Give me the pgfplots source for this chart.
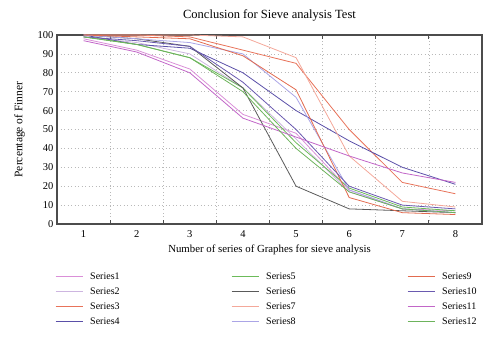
\documentclass[border=0pt]{standalone}
\usepackage{fontspec}
\setmainfont{Liberation Serif}
\usepackage{pgfplots}
\pgfplotsset{compat=1.18}
\definecolor{cS1}{HTML}{DA8FD8}
\definecolor{cS2}{HTML}{CDB5E0}
\definecolor{cS3}{HTML}{E8735A}
\definecolor{cS4}{HTML}{5A4FA8}
\definecolor{cS5}{HTML}{6CBB5A}
\definecolor{cS6}{HTML}{5A5A5A}
\definecolor{cS7}{HTML}{F4A89A}
\definecolor{cS8}{HTML}{ABA5E6}
\definecolor{cS9}{HTML}{E26B4F}
\definecolor{cS10}{HTML}{6A5AB0}
\definecolor{cS11}{HTML}{C266C8}
\definecolor{cS12}{HTML}{6DB35C}
\begin{document}
\begin{tikzpicture}
\useasboundingbox (-57pt,-118pt) rectangle (443pt,224pt);
\begin{axis}[
  at={(0,0)}, anchor=south west,
  scale only axis, width=425pt, height=189pt,
  xmin=0.5, xmax=8.5, ymin=0, ymax=100,
  xtick={1,...,8}, minor xtick={1.5,2.5,...,7.5},
  ytick={0,10,...,100},
  major tick length=0pt,
  minor tick length=4pt,
  tick align=inside,
  xmajorgrids=false, xminorgrids=true, ymajorgrids=true,
  grid style={gray!55, dash pattern=on 1pt off 2.5pt, line width=0.6pt},
  minor grid style={gray!55, dash pattern=on 1pt off 2.5pt, line width=0.6pt},
  axis line style={black!70, line width=1.3pt},
  tick style={black!70, line width=0.8pt},
  /pgf/number format/assume math mode=true,
  ticklabel style={font=\fontsize{10.5}{12}\selectfont},
  xticklabel style={yshift=-3pt},
  title={Conclusion for Sieve analysis Test},
  title style={font=\fontsize{12.5}{14}\selectfont, yshift=4pt},
  xlabel={Number of series of Graphes for sieve analysis},
  xlabel style={font=\fontsize{10.8}{12}\selectfont, yshift=0pt},
  ylabel={Percentage of Finner},
  ylabel style={font=\fontsize{11.5}{13}\selectfont, yshift=6pt},
  legend columns=3,
  legend cell align=left,
  legend style={at={(rel axis cs:0,0)}, anchor=north west, xshift=-5pt, yshift=-43pt,
    draw=none, fill=none, font=\fontsize{10}{12}\selectfont,
    nodes={text height=7pt, text depth=2pt, inner ysep=3pt, inner xsep=3pt, text width=138pt},
    /tikz/every odd column/.append style={column sep=4pt}},
  legend image code/.code={\draw[#1, line width=1pt] (0pt,0pt) -- (27pt,0pt);},
  every axis plot/.append style={line width=0.8pt, mark=none},
]
\addplot[cS1, forget plot] coordinates {(1,98)(2,92)(3,82)(4,58)(5,48)(6,18)(7,8)(8,7)};
\addplot[cS2, forget plot] coordinates {(1,99)(2,96)(3,90)(4,72)(5,45)(6,17)(7,8)(8,6)};
\addplot[cS3, forget plot] coordinates {(1,100)(2,100)(3,99)(4,92)(5,85)(6,50)(7,22)(8,16)};
\addplot[cS4, forget plot] coordinates {(1,100)(2,95)(3,93)(4,80)(5,60)(6,44)(7,30)(8,21)};
\addplot[cS5, forget plot] coordinates {(1,99)(2,95)(3,88)(4,72)(5,43)(6,19)(7,9)(8,7)};
\addplot[cS6, forget plot] coordinates {(1,100)(2,98)(3,94)(4,72)(5,20)(6,8)(7,7)(8,6)};
\addplot[cS7, forget plot] coordinates {(1,100)(2,100)(3,100)(4,99)(5,88)(6,36)(7,12)(8,9)};
\addplot[cS8, forget plot] coordinates {(1,100)(2,98)(3,96)(4,90)(5,67)(6,18)(7,8)(8,6)};
\addplot[cS9, forget plot] coordinates {(1,100)(2,99)(3,98)(4,89)(5,71)(6,14)(7,6)(8,5)};
\addplot[cS10, forget plot] coordinates {(1,99)(2,97)(3,94)(4,75)(5,50)(6,20)(7,10)(8,8)};
\addplot[cS11, forget plot] coordinates {(1,97)(2,91)(3,80)(4,56)(5,46)(6,36)(7,27)(8,22)};
\addplot[cS12, forget plot] coordinates {(1,99)(2,95)(3,88)(4,70)(5,40)(6,17)(7,8)(8,6)};
\addlegendimage{cS1}\addlegendentry{Series1}
\addlegendimage{cS5}\addlegendentry{Series5}
\addlegendimage{cS9}\addlegendentry{Series9}
\addlegendimage{cS2}\addlegendentry{Series2}
\addlegendimage{cS6}\addlegendentry{Series6}
\addlegendimage{cS10}\addlegendentry{Series10}
\addlegendimage{cS3}\addlegendentry{Series3}
\addlegendimage{cS7}\addlegendentry{Series7}
\addlegendimage{cS11}\addlegendentry{Series11}
\addlegendimage{cS4}\addlegendentry{Series4}
\addlegendimage{cS8}\addlegendentry{Series8}
\addlegendimage{cS12}\addlegendentry{Series12}
\end{axis}
\end{tikzpicture}
\end{document}
